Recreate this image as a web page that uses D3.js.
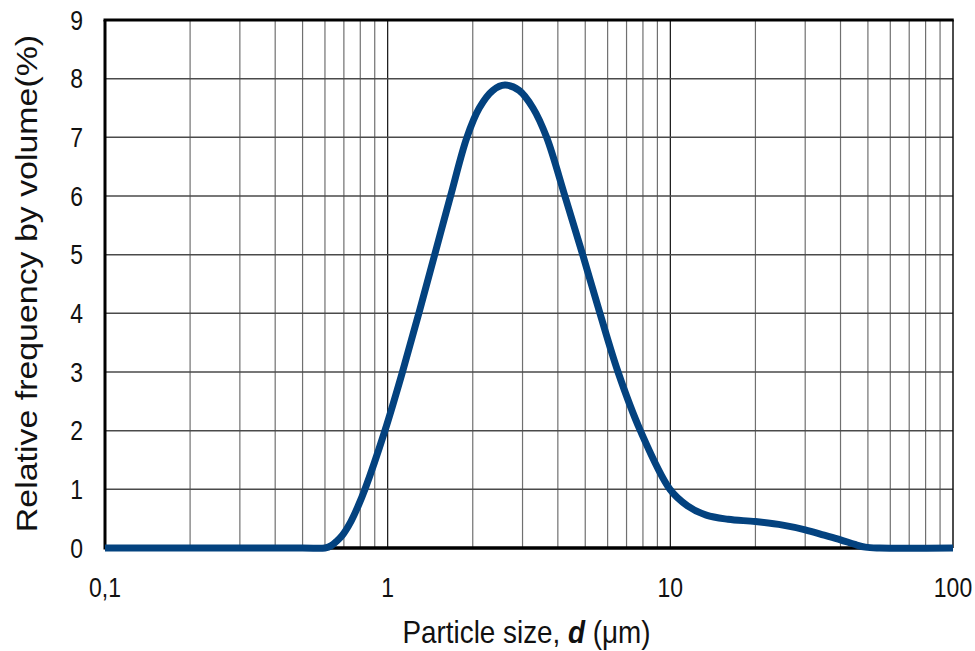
<!DOCTYPE html>
<html><head><meta charset="utf-8">
<script src="https://cdn.jsdelivr.net/npm/d3@7"></script>
<style>
body{margin:0;background:#fff;}
text{font-family:"Liberation Sans",Arial,Helvetica,sans-serif;fill:#111;}
</style></head>
<body><svg id="c" width="975" height="651"></svg>
<script>
const sizes = [0.1, 0.5, 0.6, 0.632, 0.658, 0.692, 0.741, 0.787, 0.831, 0.978, 1.128, 1.289, 1.467, 1.669, 1.907, 2.109, 2.355, 2.6, 2.917, 3.266, 3.65, 4.236, 4.898, 5.636, 6.531, 7.834, 9.97, 11.5, 13.4, 16, 20, 25, 30, 35, 40, 45, 49, 55, 100];
const freq  = [0, 0, 0, 0.04, 0.11, 0.22, 0.45, 0.72, 1, 2, 3, 4, 5, 6, 7, 7.5, 7.8, 7.89, 7.8, 7.5, 7, 6, 5, 4, 3, 2, 1, 0.72, 0.56, 0.49, 0.45, 0.39, 0.31, 0.22, 0.14, 0.06, 0.015, 0, 0];
const xTickVals = [0.1, 1, 10, 100];
const xTickLabels = ["0,1", "1", "10", "100"];
const yTicks = [0,1,2,3,4,5,6,7,8,9];

const svg = d3.select("#c");
const L=105, R=953, T=20, B=548;
const x = d3.scaleLog().domain([0.1,100]).range([L,R]);
const y = d3.scaleLinear().domain([0,9]).range([B,T]);

// minor vertical grid
const minors = [];
[0.1,1,10].forEach(dec=>{ for(let k=2;k<=9;k++) minors.push(dec*k); });
svg.append("g").selectAll("line").data(minors).join("line")
  .attr("x1",d=>x(d)).attr("x2",d=>x(d)).attr("y1",T).attr("y2",B)
  .attr("stroke","#707070").attr("stroke-width",1.2);
svg.append("g").selectAll("line").data([1,10]).join("line")
  .attr("x1",d=>x(d)).attr("x2",d=>x(d)).attr("y1",T).attr("y2",B)
  .attr("stroke","#111").attr("stroke-width",1.2);
// horizontal grid
svg.append("g").selectAll("line").data(yTicks.slice(1,9)).join("line")
  .attr("x1",L).attr("x2",R).attr("y1",d=>y(d)).attr("y2",d=>y(d))
  .attr("stroke","#4a4a4a").attr("stroke-width",1.5);
// right border
svg.append("line").attr("x1",R).attr("x2",R).attr("y1",T).attr("y2",B).attr("stroke","#111").attr("stroke-width",1.5);
// top, left, bottom borders
svg.append("line").attr("x1",L-1.5).attr("x2",R+0.75).attr("y1",T).attr("y2",T).attr("stroke","#000").attr("stroke-width",3);
svg.append("line").attr("x1",L).attr("x2",L).attr("y1",T).attr("y2",B+1.5).attr("stroke","#000").attr("stroke-width",3);
svg.append("line").attr("x1",L).attr("x2",R).attr("y1",B).attr("y2",B).attr("stroke","#000").attr("stroke-width",3.5);

// y tick labels (condensed)
svg.append("g").selectAll("text").data(yTicks).join("text")
  .attr("transform",d=>`translate(83,${y(d)}) scale(0.82,1)`).attr("dy","0.35em").attr("text-anchor","end")
  .attr("font-size",28).text(d=>d);
// x tick labels
svg.append("g").selectAll("text").data(xTickVals).join("text")
  .attr("transform",d=>`translate(${x(d)},597) scale(0.82,1)`).attr("text-anchor","middle")
  .attr("font-size",28).text((d,i)=>xTickLabels[i]);

// curve
const line = d3.line().x((d,i)=>x(sizes[i])).y(d=>y(d)).curve(d3.curveCatmullRom.alpha(0.5));
svg.append("path").datum(freq).attr("d",line).attr("fill","none")
  .attr("stroke","#03427f").attr("stroke-width",7).attr("stroke-linejoin","round");

// axis titles
const xt = svg.append("text").attr("transform","translate(526.5,643) scale(0.87,1)")
  .attr("text-anchor","middle").attr("font-size",32);
xt.append("tspan").text("Particle size, ");
xt.append("tspan").attr("font-weight","bold").attr("font-style","italic").text("d");
xt.append("tspan").text(" (μm)");
svg.append("text").attr("transform","translate(37,283.5) rotate(-90) scale(1.13,1)")
  .attr("text-anchor","middle").attr("font-size",30)
  .text("Relative frequency by volume(%)");
</script></body></html>
